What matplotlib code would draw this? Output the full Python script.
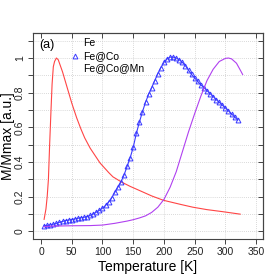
import matplotlib
matplotlib.use('Agg')
import matplotlib.pyplot as plt
import numpy as np

plt.rcParams['font.family'] = ['Liberation Sans', 'DejaVu Sans']

# Fe: red line
fe_T = [5, 8, 10, 12, 14, 16, 18, 20, 22, 25, 28, 31, 35, 40, 45, 50, 58, 65, 71, 80,
        96, 110, 117, 131, 145, 161, 180, 199, 226, 247, 270, 296, 324]
fe_M = [0.07, 0.13, 0.20, 0.30, 0.50, 0.68, 0.85, 0.95, 0.98, 1.00, 0.99, 0.96, 0.92, 0.86,
        0.80, 0.74, 0.655, 0.59, 0.54, 0.48, 0.395, 0.34, 0.315, 0.285, 0.26, 0.235, 0.205,
        0.18, 0.157, 0.14, 0.126, 0.114, 0.10]

# Fe@Co: blue line with open triangles
feco_T = [5, 10, 15, 20, 25, 30, 35, 40, 45, 50, 55, 60, 65, 70, 75, 80, 85, 90, 95, 100,
          105, 110, 115, 120, 125, 130, 135, 140, 145, 150, 155, 160, 165, 170, 175, 180,
          185, 190, 195, 200, 205, 210, 215, 220, 225, 230, 235, 240, 245, 250, 255, 260,
          265, 270, 275, 280, 285, 290, 295, 300, 305, 310, 315, 320]
feco_M = [0.033, 0.035, 0.038, 0.042, 0.047, 0.053, 0.058, 0.063, 0.066, 0.069, 0.072,
          0.076, 0.079, 0.082, 0.086, 0.093, 0.101, 0.112, 0.122, 0.135, 0.150, 0.170,
          0.195, 0.225, 0.255, 0.285, 0.325, 0.375, 0.425, 0.485, 0.565, 0.630, 0.690,
          0.745, 0.790, 0.830, 0.870, 0.910, 0.945, 0.975, 0.995, 1.005, 1.005, 1.000,
          0.990, 0.975, 0.955, 0.930, 0.905, 0.885, 0.865, 0.845, 0.830, 0.812, 0.795,
          0.778, 0.760, 0.745, 0.728, 0.712, 0.695, 0.678, 0.660, 0.643]

# Fe@Co@Mn: purple line
fecomn_T = [5, 20, 50, 80, 100, 120, 140, 150, 160, 170, 180, 190, 200, 210, 220, 230,
            240, 250, 260, 270, 280, 290, 300, 305, 310, 318, 325, 328]
fecomn_M = [0.028, 0.031, 0.033, 0.034, 0.037, 0.047, 0.060, 0.068, 0.078, 0.090, 0.110,
            0.140, 0.185, 0.255, 0.345, 0.460, 0.575, 0.680, 0.780, 0.870, 0.935, 0.980,
            0.998, 1.000, 0.995, 0.970, 0.925, 0.905]

x_ticks = [0, 50, 100, 150, 200, 250, 300, 350]
y_ticks = [0, 0.2, 0.4, 0.6, 0.8, 1.0]
y_tick_labels = ['0', '0.2', '0.4', '0.6', '0.8', '1']
y_minor = [0.1, 0.3, 0.5, 0.7, 0.9, 1.1]

fig = plt.figure(figsize=(2.8, 2.8), dpi=100)
ax = fig.add_axes([0.118, 0.146, 0.821, 0.736])

# grid (dotted, light)
for v in np.arange(0, 1.15, 0.1):
    ax.axhline(v, color='#cccccc', lw=0.6, ls=(0, (1, 1.5)), zorder=0)
for t in x_ticks[1:]:
    ax.axvline(t, color='#cccccc', lw=0.6, ls=(0, (1, 1.5)), zorder=0)

ax.plot(fe_T, fe_M, color='#ff4545', lw=0.8)
ax.plot(feco_T, feco_M, color='#3a3aff', lw=0.8, marker='^', ms=3.5, mfc='none',
        mec='#3a3aff', mew=0.7)
ax.plot(fecomn_T, fecomn_M, color='#b040f0', lw=0.8)

ax.set_xlim(-13, 361)
ax.set_ylim(-0.044, 1.144)

ax.set_xticks(x_ticks)
ax.set_yticks(y_ticks)
ax.set_yticklabels(y_tick_labels, rotation=90, ha='center', va='center')
ax.set_yticks(y_minor, minor=True)
ax.tick_params(axis='both', which='both', direction='out', length=3.5, width=0.7,
               color='#444444', labelsize=7.5, labelcolor='#222222')
ax.tick_params(axis='x', pad=2)
ax.tick_params(axis='y', pad=6)

# inward ticks on top and right
sec_x = ax.secondary_xaxis('top')
sec_x.set_xticks(x_ticks)
sec_x.tick_params(direction='in', length=3.5, width=0.7, color='#444444', labeltop=False)
sec_y = ax.secondary_yaxis('right')
sec_y.set_yticks(sorted(y_ticks + y_minor))
sec_y.tick_params(direction='in', length=3.5, width=0.7, color='#444444', labelright=False)

for s in list(ax.spines.values()) + [sec_x.spines['top'], sec_y.spines['right']]:
    s.set_color('#444444')
    s.set_linewidth(0.8)

ax.set_xlabel('Temperature [K]', fontsize=10, va='center')
ax.xaxis.set_label_coords(0.5, -0.136)
ax.set_ylabel('M/Mmax [a.u.]', fontsize=10, va='center')
ax.yaxis.set_label_coords(-0.11, 0.5)

# panel tag and text legend
ax.text(0.026, 0.942, '(a)', transform=ax.transAxes, fontsize=9, va='center', ha='left')
ax.text(0.217, 0.951, 'Fe', transform=ax.transAxes, fontsize=7.5, va='center')
ax.text(0.217, 0.888, 'Fe@Co', transform=ax.transAxes, fontsize=7.5, va='center')
ax.text(0.217, 0.830, 'Fe@Co@Mn', transform=ax.transAxes, fontsize=7.5, va='center')
ax.plot([0.183], [0.888], transform=ax.transAxes, marker='^', ms=3.5, mfc='none',
        mec='#3a3aff', mew=0.7, ls='none', clip_on=False)

fig.savefig('out.png', dpi=100)
